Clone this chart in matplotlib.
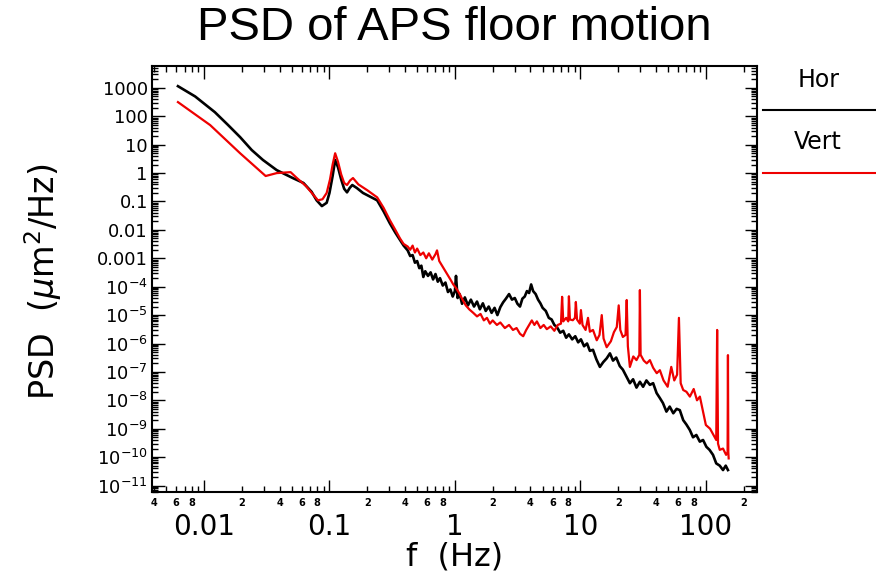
import matplotlib
matplotlib.use("Agg")
import matplotlib.pyplot as plt
from matplotlib.lines import Line2D
from matplotlib.ticker import LogLocator, FixedLocator, FixedFormatter, FuncFormatter, NullFormatter
import numpy as np

plt.rcParams['font.family'] = ['DejaVu Sans']
plt.rcParams['mathtext.fontset'] = 'dejavusans'

# Horizontal floor motion PSD
hor_f = [0.0062, 0.0085, 0.0122, 0.0155, 0.0194, 0.024, 0.0295, 0.038, 0.051, 0.062,
         0.072, 0.079, 0.087, 0.095, 0.100, 0.106, 0.111, 0.117, 0.124, 0.131,
         0.138, 0.145, 0.152, 0.165, 0.185, 0.21, 0.24, 0.27, 0.303, 0.335,
         0.365, 0.39, 0.42, 0.44, 0.46, 0.48, 0.50, 0.52, 0.54, 0.56,
         0.58, 0.61, 0.64, 0.67, 0.70, 0.73, 0.76, 0.80, 0.84, 0.88,
         0.92, 0.96, 1.00, 1.02, 1.05, 1.09, 1.14, 1.2, 1.27, 1.34,
         1.42, 1.5, 1.58, 1.67, 1.76, 1.86, 1.96, 2.07, 2.18, 2.3,
         2.42, 2.55, 2.7, 2.85, 3.0, 3.15, 3.3, 3.45, 3.6, 3.75,
         3.9, 4.05, 4.2, 4.4, 4.6, 4.8, 5.0, 5.3, 5.6, 5.9,
         6.2, 6.5, 6.9, 7.3, 7.7, 8.1, 8.6, 9.1, 9.6, 10.1,
         10.7, 11.3, 11.9, 12.6, 13.4, 14.3, 15.2, 16.2, 17.2, 18.2,
         19.3, 20.6, 21.8, 23.2, 24.8, 26.3, 28, 29.8, 31.6, 33.6,
         35.8, 38, 40.5, 43, 45.5, 48.5, 51.5, 55, 58.5, 62,
         66, 70, 74.5, 79, 84, 89.5, 95, 101, 107, 114,
         121, 129, 137, 144, 150]
hor_psd = [1150, 500, 140, 50, 18.5, 6.5, 2.9, 1.27, 0.67, 0.45,
           0.22, 0.11, 0.069, 0.09, 0.2, 0.8, 2.9, 1.6, 0.6, 0.28,
           0.21, 0.3, 0.38, 0.3, 0.2, 0.15, 0.11, 0.045, 0.017, 0.008,
           0.0044, 0.0028, 1.9e-3, 1.2e-3, 1.3e-3, 7e-4, 8e-4, 4.5e-4, 5.5e-4, 2.2e-4,
           3.5e-4, 2.4e-4, 3.2e-4, 1.8e-4, 2.8e-4, 1.5e-4, 2.0e-4, 1.1e-4, 1.4e-4, 6.5e-5,
           8e-5, 4.5e-5, 7e-5, 2.4e-4, 4e-5, 5.5e-5, 2.5e-5, 4.2e-5, 2.2e-5, 3.5e-5,
           2.0e-5, 3.0e-5, 1.6e-5, 2.6e-5, 1.4e-5, 2.0e-5, 1.2e-5, 1.8e-5, 1.0e-5, 1.9e-5,
           2.8e-5, 3.8e-5, 5.5e-5, 3.5e-5, 4.0e-5, 2.5e-5, 2.0e-5, 3.8e-5, 4.5e-5, 7e-5,
           6e-5, 1.2e-4, 7e-5, 5.5e-5, 3.5e-5, 2.6e-5, 1.8e-5, 1.4e-5, 8e-6, 7e-6,
           4.5e-6, 3.8e-6, 2.4e-6, 2.8e-6, 1.6e-6, 2.1e-6, 1.4e-6, 1.8e-6, 1.1e-6, 1.4e-6,
           8e-7, 1.0e-6, 5.5e-7, 6e-7, 2.8e-7, 1.5e-7, 2.2e-7, 3.0e-7, 4.5e-7, 2.5e-7,
           3.2e-7, 1.6e-7, 1.2e-7, 7e-8, 4e-8, 5.5e-8, 2.8e-8, 4.5e-8, 3e-8, 5e-8,
           3.5e-8, 4e-8, 1.8e-8, 1.2e-8, 8e-9, 4e-9, 6e-9, 3.5e-9, 5e-9, 4.5e-9,
           2e-9, 1.4e-9, 9e-10, 5e-10, 6e-10, 3.5e-10, 4e-10, 2.3e-10, 1.8e-10, 1.2e-10,
           6e-11, 5e-11, 3.5e-11, 5e-11, 3.5e-11]

# Vertical floor motion PSD
vert_f = [0.0062, 0.0112, 0.0194, 0.031, 0.038, 0.049, 0.055, 0.065, 0.081, 0.088,
          0.095, 0.101, 0.106, 0.111, 0.117, 0.124, 0.131, 0.138, 0.146, 0.154,
          0.17, 0.2, 0.24, 0.27, 0.303, 0.335, 0.365, 0.39, 0.42, 0.44,
          0.46, 0.48, 0.50, 0.53, 0.56, 0.59, 0.62, 0.66, 0.70, 0.72,
          0.75, 0.80, 0.84, 0.88, 0.92, 0.97, 1.02, 1.08, 1.15, 1.22,
          1.3, 1.4, 1.5, 1.6, 1.7, 1.8, 1.9, 2.0, 2.16, 2.3,
          2.5, 2.7, 2.9, 3.1, 3.3, 3.5, 3.7, 3.9, 4.1, 4.3,
          4.5, 4.8, 5.1, 5.4, 5.8, 6.2, 6.6, 7.0, 7.15, 7.3,
          7.7, 8.0, 8.1, 8.25, 8.7, 9.05, 9.2, 9.4, 9.9, 10.1,
          10.4, 11.0, 11.5, 11.9, 12.6, 13.5, 14.2, 14.8, 15.3, 16.2,
          17.5, 18.5, 19.5, 20.2, 20.8, 21.8, 22.9, 23.4, 23.9, 24.8,
          26.4, 28, 29.5, 29.8, 30.2, 32, 33.8, 35.8, 38, 40.6,
          43, 46, 49.6, 53, 56, 59, 61, 63, 66, 70,
          74.6, 80, 85, 89.6, 95, 100, 108, 115, 121, 123,
          125, 129, 137, 145, 149, 150, 151, 152]
vert_psd = [316, 49, 5, 0.79, 1.0, 1.08, 0.67, 0.35, 0.11, 0.12,
            0.2, 0.6, 2.0, 5.0, 2.5, 0.9, 0.45, 0.38, 0.55, 0.67,
            0.4, 0.25, 0.14, 0.06, 0.022, 0.01, 0.005, 0.0032, 2.6e-3, 2.0e-3,
            2.8e-3, 1.6e-3, 2.2e-3, 1.3e-3, 1.6e-3, 1.0e-3, 1.5e-3, 9e-4, 1.4e-3, 1.9e-3,
            8e-4, 5e-4, 3.5e-4, 2.5e-4, 1.8e-4, 1.2e-4, 9e-5, 6e-5, 3.5e-5, 2.2e-5,
            1.6e-5, 1.2e-5, 9e-6, 1.1e-5, 6.5e-6, 8e-6, 5e-6, 6.5e-6, 4.5e-6, 5.5e-6,
            3.5e-6, 4.5e-6, 3e-6, 3.5e-6, 2.2e-6, 1.8e-6, 3.0e-6, 4.5e-6, 6.5e-6, 4.5e-6,
            6e-6, 3.5e-6, 4.5e-6, 3.2e-6, 4e-6, 2.8e-6, 4.5e-6, 5e-6, 4.4e-5, 6e-6,
            8e-6, 6e-6, 4.6e-5, 7e-6, 6.6e-6, 8e-6, 2.9e-5, 7e-6, 5e-6, 1.5e-5,
            4.5e-6, 3e-6, 8e-6, 2.6e-6, 3e-6, 1.3e-6, 2e-6, 1e-5, 1.5e-6, 7.4e-7,
            1.2e-6, 2.5e-6, 3.8e-6, 2.2e-5, 3e-6, 1.7e-6, 2e-6, 3.4e-5, 8e-7, 1.5e-7,
            3.5e-7, 2.6e-7, 4e-7, 7.6e-5, 4e-7, 2.5e-7, 2e-7, 2.6e-7, 1.4e-7, 9e-8,
            1.15e-7, 5e-8, 3e-8, 1.5e-7, 5e-8, 8e-8, 8e-6, 4e-8, 2.3e-8, 2e-8,
            1.35e-8, 2.5e-8, 1.0e-8, 1.35e-8, 4e-9, 1.35e-9, 1e-9, 6e-10, 4e-10, 3e-6,
            3e-10, 1.8e-10, 2e-10, 1.2e-10, 1.5e-10, 3.9e-7, 1.5e-10, 9e-11]

y_ticks = [1e3, 1e2, 1e1, 1, 0.1, 0.01, 0.001, 1e-4, 1e-5, 1e-6, 1e-7, 1e-8, 1e-9, 1e-10, 1e-11]
y_labels = ['1000', '100', '10', '1', '0.1', '0.01', '0.001',
            r'$10^{-4}$', r'$10^{-5}$', r'$10^{-6}$', r'$10^{-7}$', r'$10^{-8}$',
            r'$10^{-9}$', r'$10^{-10}$', r'$10^{-11}$']
x_ticks = [0.01, 0.1, 1, 10, 100]
x_labels = ['0.01', '0.1', '1', '10', '100']

fig = plt.figure(figsize=(8.76, 5.80), dpi=100)
ax = fig.add_axes([0.1735, 0.1517, 0.6905, 0.7345])

ax.plot(hor_f, hor_psd, color='black', lw=1.9)
ax.plot(vert_f, vert_psd, color='#ee0000', lw=1.6)

ax.set_xscale('log')
ax.set_yscale('log')
ax.set_xlim(0.00385, 255)
ax.set_ylim(5.9e-12, 5900)

ax.yaxis.set_major_locator(FixedLocator(y_ticks))
ax.yaxis.set_major_formatter(FixedFormatter(y_labels))
ax.yaxis.set_minor_locator(LogLocator(base=10, subs=np.arange(2, 10), numticks=30))
ax.yaxis.set_minor_formatter(NullFormatter())

ax.xaxis.set_major_locator(FixedLocator(x_ticks))
ax.xaxis.set_major_formatter(FixedFormatter(x_labels))
ax.xaxis.set_minor_locator(LogLocator(base=10, subs=np.arange(2, 10), numticks=30))


def minor_fmt(v, pos):
    d = int(round(v / 10 ** np.floor(np.log10(v) + 1e-9)))
    return str(d) if d in (2, 4, 6, 8) else ''


ax.xaxis.set_minor_formatter(FuncFormatter(minor_fmt))

ax.tick_params(which='both', direction='in', top=True, right=True, width=1)
ax.tick_params(which='major', length=9)
ax.tick_params(which='minor', length=4.5)
ax.tick_params(axis='y', which='major', labelsize=13, pad=3)
ax.tick_params(axis='x', which='major', labelsize=20, pad=15)
ax.tick_params(axis='x', which='minor', labelsize=7, pad=4)
for lab in ax.xaxis.get_minorticklabels():
    lab.set_fontweight('bold')
for s in ax.spines.values():
    s.set_linewidth(1.5)

fig.text(0.519, 0.952, 'PSD of APS floor motion', ha='center', va='center',
         fontsize=34, family='Liberation Sans')
fig.text(0.519, 0.040, 'f  (Hz)', ha='center', va='center', fontsize=23)
fig.text(0.049, 0.515, r'PSD  ($\mu$m$^2$/Hz)', ha='center', va='center',
         rotation=90, fontsize=24)

# legend outside the axes on the right
fig.text(0.934, 0.862, 'Hor', ha='center', va='center', fontsize=17)
fig.add_artist(Line2D([0.871, 1.0], [0.810, 0.810], color='black', lw=1.5))
fig.text(0.934, 0.755, 'Vert', ha='center', va='center', fontsize=17)
fig.add_artist(Line2D([0.871, 1.0], [0.702, 0.702], color='#ee0000', lw=1.5))

fig.savefig('out.png', dpi=100)
